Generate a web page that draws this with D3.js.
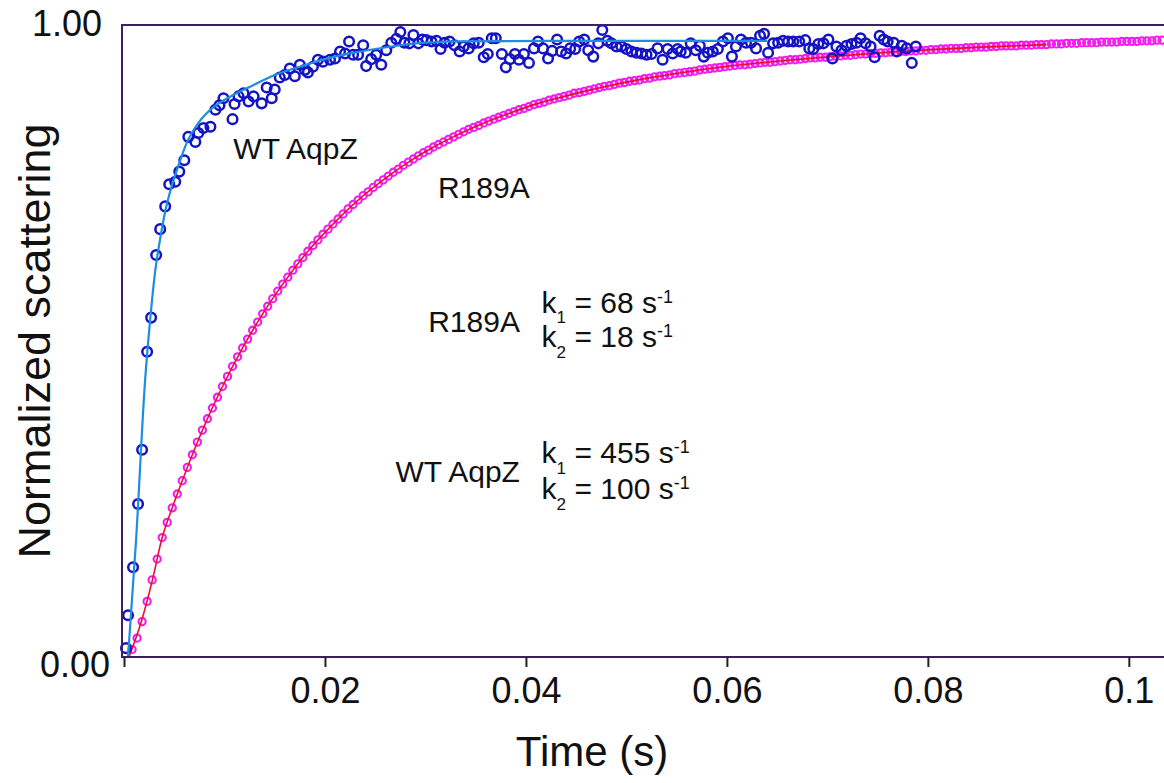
<!DOCTYPE html>
<meta charset="utf-8">
<script src="https://d3js.org/d3.v7.min.js"></script>
<style>
body { margin: 0; background: #fff; }
svg text { font-family: "Liberation Sans", Arial, Helvetica, sans-serif; fill: #111; }
.axis .domain { display: none; }
</style>
<body>
<div id="canvas"></div>
<script>

// stopped-flow traces, time in ms, scattering normalized 0..1
var wtTime = [
  0.2, 0.4, 0.9, 1.4, 1.8, 2.3, 2.7, 3.2, 3.6, 4.1,
  4.5, 5.1, 5.5, 6.0, 6.4, 7.1, 7.4, 7.9, 8.6, 9.1,
  9.5, 9.9, 10.8, 11.0, 11.4, 11.9, 12.4, 12.9, 13.7, 14.2,
  14.7, 15.0, 15.5, 16.0, 16.5, 17.0, 17.5, 18.0, 18.3, 18.8,
  19.3, 19.8, 20.5, 21.0, 21.5, 22.0, 22.4, 22.8, 23.3, 23.8,
  24.1, 24.6, 25.1, 25.6, 26.1, 26.6, 27.1, 27.5, 27.9, 28.4,
  28.8, 29.3, 29.7, 30.1, 30.6, 31.1, 31.5, 31.9, 32.4, 32.9,
  33.4, 33.8, 34.3, 34.8, 35.3, 35.8, 36.2, 36.6, 37.0, 37.6,
  38.0, 38.4, 38.9, 39.3, 39.8, 40.3, 40.8, 41.2, 41.7, 42.2,
  42.6, 43.1, 43.5, 44.0, 44.4, 44.9, 45.3, 45.8, 46.2, 46.7,
  47.2, 47.6, 48.1, 48.5, 49.0, 49.5, 50.0, 50.5, 51.0, 51.5,
  52.0, 52.5, 53.1, 53.6, 54.1, 54.6, 55.1, 55.4, 55.9, 56.4,
  56.9, 57.3, 57.7, 58.1, 58.6, 59.1, 59.6, 60.1, 60.5, 60.9,
  61.4, 61.9, 62.4, 62.9, 63.3, 63.7, 64.1, 64.6, 65.1, 65.6,
  66.1, 66.6, 67.2, 67.8, 68.2, 68.6, 69.1, 69.6, 70.1, 70.5,
  70.9, 71.4, 71.9, 72.4, 72.9, 73.3, 73.8, 74.3, 74.7, 75.2,
  75.6, 76.0, 76.6, 76.9, 77.4, 77.9, 78.4, 78.8
];
var wtValue = [
  0.014, 0.066, 0.142, 0.242, 0.328, 0.483, 0.537, 0.636, 0.677, 0.713,
  0.748, 0.752, 0.768, 0.786, 0.823, 0.815, 0.829, 0.837, 0.839, 0.866,
  0.873, 0.884, 0.851, 0.875, 0.887, 0.892, 0.879, 0.887, 0.876, 0.901,
  0.884, 0.898, 0.917, 0.921, 0.931, 0.919, 0.937, 0.929, 0.925, 0.934,
  0.945, 0.942, 0.945, 0.947, 0.958, 0.955, 0.974, 0.953, 0.953, 0.968,
  0.935, 0.946, 0.953, 0.937, 0.960, 0.972, 0.978, 0.989, 0.972, 0.971,
  0.984, 0.971, 0.977, 0.976, 0.974, 0.975, 0.962, 0.972, 0.974, 0.968,
  0.958, 0.966, 0.963, 0.971, 0.972, 0.949, 0.954, 0.979, 0.979, 0.954,
  0.933, 0.946, 0.954, 0.945, 0.954, 0.940, 0.963, 0.974, 0.963, 0.947,
  0.959, 0.977, 0.958, 0.955, 0.963, 0.962, 0.974, 0.977, 0.960, 0.950,
  0.971, 0.992, 0.975, 0.971, 0.966, 0.966, 0.962, 0.958, 0.956, 0.955,
  0.953, 0.954, 0.963, 0.945, 0.962, 0.955, 0.962, 0.958, 0.956, 0.971,
  0.960, 0.967, 0.950, 0.956, 0.958, 0.962, 0.974, 0.979, 0.950, 0.966,
  0.977, 0.972, 0.972, 0.963, 0.983, 0.986, 0.956, 0.971, 0.972, 0.975,
  0.974, 0.974, 0.974, 0.976, 0.963, 0.962, 0.970, 0.971, 0.977, 0.947,
  0.966, 0.960, 0.967, 0.970, 0.972, 0.979, 0.971, 0.966, 0.949, 0.983,
  0.977, 0.974, 0.972, 0.958, 0.967, 0.963, 0.940, 0.966
];
// fitted curve WT AqpZ
var wtFitTime = [0.4, 1.2, 2.1, 2.6, 3.1, 3.6, 4.1, 4.6, 5.4, 6.2, 7.4, 8.9, 10.5, 12.5, 15.0, 17.5, 20.0, 22.5, 25.0, 27.5, 30.0, 33.0, 45.0, 64.0];
var wtFitValue = [0.000, 0.185, 0.438, 0.533, 0.610, 0.662, 0.705, 0.737, 0.777, 0.812, 0.845, 0.870, 0.886, 0.902, 0.921, 0.934, 0.946, 0.955, 0.962, 0.968, 0.972, 0.974, 0.975, 0.975];

var rTime = [
  0.8, 1.3, 1.8, 2.3, 2.8, 3.3, 3.8, 4.3, 4.8, 5.3,
  5.8, 6.3, 6.8, 7.3, 7.8, 8.3, 8.8, 9.3, 9.8, 10.3,
  10.8, 11.3, 11.8, 12.3, 12.8, 13.3, 13.8, 14.3, 14.8, 15.3,
  15.8, 16.3, 16.8, 17.3, 17.8, 18.3, 18.8, 19.3, 19.8, 20.3,
  20.8, 21.3, 21.8, 22.3, 22.8, 23.3, 23.8, 24.3, 24.8, 25.3,
  25.8, 26.3, 26.8, 27.3, 27.8, 28.3, 28.8, 29.3, 29.8, 30.3,
  30.8, 31.3, 31.8, 32.3, 32.8, 33.3, 33.8, 34.3, 34.8, 35.3,
  35.8, 36.3, 36.8, 37.3, 37.8, 38.3, 38.8, 39.3, 39.8, 40.3,
  40.8, 41.3, 41.8, 42.3, 42.8, 43.3, 43.8, 44.3, 44.8, 45.3,
  45.8, 46.3, 46.8, 47.3, 47.8, 48.3, 48.8, 49.3, 49.8, 50.3,
  50.8, 51.3, 51.8, 52.3, 52.8, 53.3, 53.8, 54.3, 54.8, 55.3,
  55.8, 56.3, 56.8, 57.3, 57.8, 58.3, 58.8, 59.3, 59.8, 60.3,
  60.8, 61.3, 61.8, 62.3, 62.8, 63.3, 63.8, 64.3, 64.8, 65.3,
  65.8, 66.3, 66.8, 67.3, 67.8, 68.3, 68.8, 69.3, 69.8, 70.3,
  70.8, 71.3, 71.8, 72.3, 72.8, 73.3, 73.8, 74.3, 74.8, 75.3,
  75.8, 76.3, 76.8, 77.3, 77.8, 78.3, 78.8, 79.3, 79.8, 80.3,
  80.8, 81.3, 81.8, 82.3, 82.8, 83.3, 83.8, 84.3, 84.8, 85.3,
  85.8, 86.3, 86.8, 87.3, 87.8, 88.3, 88.8, 89.3, 89.8, 90.3,
  90.8, 91.3, 91.8, 92.3, 92.8, 93.3, 93.8, 94.3, 94.8, 95.3,
  95.8, 96.3, 96.8, 97.3, 97.8, 98.3, 98.8, 99.3, 99.8, 100.3,
  100.8, 101.3, 101.8, 102.3, 102.8, 103.3
];
var rValue = [
  0.012, 0.030, 0.056, 0.088, 0.122, 0.155, 0.189, 0.213, 0.236, 0.258,
  0.279, 0.300, 0.320, 0.340, 0.359, 0.377, 0.394, 0.411, 0.428, 0.444,
  0.460, 0.475, 0.489, 0.503, 0.517, 0.530, 0.543, 0.555, 0.567, 0.579,
  0.590, 0.601, 0.612, 0.622, 0.632, 0.642, 0.651, 0.660, 0.669, 0.677,
  0.685, 0.693, 0.701, 0.709, 0.716, 0.723, 0.730, 0.736, 0.743, 0.749,
  0.755, 0.761, 0.767, 0.772, 0.778, 0.783, 0.788, 0.793, 0.798, 0.802,
  0.807, 0.811, 0.815, 0.819, 0.823, 0.827, 0.831, 0.835, 0.838, 0.841,
  0.845, 0.848, 0.851, 0.854, 0.857, 0.860, 0.863, 0.866, 0.868, 0.871,
  0.874, 0.876, 0.878, 0.881, 0.883, 0.885, 0.887, 0.889, 0.892, 0.893,
  0.895, 0.897, 0.899, 0.901, 0.903, 0.904, 0.906, 0.908, 0.909, 0.911,
  0.912, 0.913, 0.915, 0.916, 0.918, 0.919, 0.920, 0.921, 0.923, 0.924,
  0.925, 0.926, 0.927, 0.929, 0.930, 0.931, 0.932, 0.933, 0.934, 0.935,
  0.936, 0.937, 0.937, 0.938, 0.939, 0.940, 0.941, 0.941, 0.942, 0.943,
  0.944, 0.945, 0.945, 0.946, 0.947, 0.948, 0.948, 0.949, 0.949, 0.950,
  0.951, 0.951, 0.952, 0.952, 0.953, 0.954, 0.954, 0.955, 0.955, 0.956,
  0.956, 0.957, 0.957, 0.958, 0.958, 0.959, 0.959, 0.960, 0.960, 0.961,
  0.961, 0.962, 0.962, 0.963, 0.963, 0.963, 0.964, 0.964, 0.965, 0.965,
  0.965, 0.966, 0.966, 0.967, 0.967, 0.967, 0.967, 0.968, 0.968, 0.968,
  0.969, 0.969, 0.969, 0.970, 0.970, 0.970, 0.971, 0.971, 0.971, 0.972,
  0.972, 0.972, 0.972, 0.973, 0.973, 0.973, 0.973, 0.974, 0.974, 0.974,
  0.974, 0.975, 0.975, 0.975, 0.976, 0.976
];
// fitted curve R189A
var rFitTime = [0.5, 1.8, 2.8, 3.8, 4.8, 5.8, 6.8, 8.3, 9.8, 11.8, 13.8, 15.8, 18.3, 20.8, 23.3, 25.8, 28.3, 30.8, 33.3, 35.8, 38.3, 40.8, 43.3, 45.8, 48.3, 50.8, 55.3, 60.3, 65.3, 70.3, 75.3, 80.3, 85.3, 91.8];
var rFitValue = [0.000, 0.060, 0.120, 0.189, 0.236, 0.279, 0.320, 0.377, 0.428, 0.489, 0.543, 0.590, 0.642, 0.685, 0.723, 0.755, 0.783, 0.807, 0.827, 0.845, 0.860, 0.874, 0.885, 0.895, 0.904, 0.912, 0.924, 0.935, 0.943, 0.950, 0.956, 0.961, 0.965, 0.969];

var xTickValues = [0, 0.02, 0.04, 0.06, 0.08, 0.1];
var xTickLabels = ["", "0.02", "0.04", "0.06", "0.08", "0.1"];
var yTickValues = [0, 1];
var yTickLabels = ["0.00", "1.00"];

var width = 1164;
var height = 783;

var svg = d3.select("#canvas")
    .append("svg")
    .attr("width", width)
    .attr("height", height)
    .style("display", "block");

var plot = {left: 122, top: 25, bottom: 657};

// time scale in seconds, 0 sits just right of the frame
var x = d3.scaleLinear().domain([-0.0002, 0.1035]).range([plot.left, width]);
var y = d3.scaleLinear().domain([0, 1]).range([plot.bottom, plot.top]);

function pts(t, v) {
    return d3.zip(t, v).map(function(d) { return {t: d[0] / 1000, v: d[1]}; });
}
var wtData = pts(wtTime, wtValue);
var wtFit = pts(wtFitTime, wtFitValue);
var rData = pts(rTime, rValue);
var rFit = pts(rFitTime, rFitValue);

var line = d3.line()
    .x(function(d) { return x(d.t); })
    .y(function(d) { return y(d.v); })
    .curve(d3.curveMonotoneX);

// R189A points + fit
svg.append("g").selectAll("circle")
    .data(rData).enter().append("circle")
    .attr("cx", function(d) { return x(d.t); })
    .attr("cy", function(d) { return y(d.v); })
    .attr("r", 3.6)
    .attr("fill", "none")
    .attr("stroke", "#f21cf0")
    .attr("stroke-width", 2.1);

svg.append("path")
    .datum(rFit)
    .attr("d", line)
    .attr("fill", "none")
    .attr("stroke", "#e8102e")
    .attr("stroke-width", 1.6);

// WT points + fit
svg.append("g").selectAll("circle")
    .data(wtData).enter().append("circle")
    .attr("cx", function(d) { return x(d.t); })
    .attr("cy", function(d) { return y(d.v); })
    .attr("r", 4.8)
    .attr("fill", "none")
    .attr("stroke", "#1414c4")
    .attr("stroke-width", 2.5);

svg.append("path")
    .datum(wtFit)
    .attr("d", line)
    .attr("fill", "none")
    .attr("stroke", "#1f8ce0")
    .attr("stroke-width", 2.2);

// frame (right side runs off the picture)
svg.append("rect")
    .attr("x", plot.left)
    .attr("y", plot.top)
    .attr("width", width + 10 - plot.left)
    .attr("height", plot.bottom - plot.top)
    .attr("fill", "none")
    .attr("stroke", "#3b2160")
    .attr("stroke-width", 2);

// x axis
var xAxis = d3.axisBottom(x)
    .tickValues(xTickValues)
    .tickSize(10)
    .tickPadding(10)
    .tickFormat(function(d, i) { return xTickLabels[i]; });
var gx = svg.append("g")
    .attr("class", "axis")
    .attr("transform", "translate(0," + plot.bottom + ")")
    .call(xAxis);
gx.selectAll("line").attr("stroke", "#222").attr("stroke-width", 2);
gx.selectAll("text").style("font-size", "36px");

// y axis, labels only
var yAxis = d3.axisLeft(y)
    .tickValues(yTickValues)
    .tickSize(0)
    .tickPadding(12)
    .tickFormat(function(d, i) { return yTickLabels[i]; });
var gy = svg.append("g")
    .attr("class", "axis")
    .attr("transform", "translate(" + plot.left + ",0)")
    .call(yAxis);
gy.selectAll("text")
    .style("font-size", "36px")
    .attr("dx", function(d) { return d === 1 ? -8 : 0; })
    .attr("dy", function(d) { return d === 1 ? "0.28em" : "0.55em"; });

// axis titles
svg.append("text")
    .attr("transform", "translate(50," + y(0.5) + ") rotate(-90)")
    .attr("text-anchor", "middle")
    .style("font-size", "45px")
    .text("Normalized scattering");

svg.append("text")
    .attr("x", 592)
    .attr("y", 766)
    .attr("text-anchor", "middle")
    .style("font-size", "42px")
    .text("Time (s)");

// curve labels
svg.append("text")
    .attr("x", x(0.01088)).attr("y", y(0.7875))
    .style("font-size", "30px")
    .text("WT AqpZ");
svg.append("text")
    .attr("x", x(0.03124)).attr("y", y(0.7263))
    .style("font-size", "30px")
    .text("R189A");

// rate constants
var rates = [
    {name: "R189A", k1: "68", k2: "18", v1: 0.5448, v2: 0.4900, vn: 0.5147},
    {name: "WT AqpZ", k1: "455", k2: "100", v1: 0.3065, v2: 0.2495, vn: 0.2774}
];
rates.forEach(function(r) {
    svg.append("text")
        .attr("x", x(0.0394)).attr("y", y(r.vn))
        .attr("text-anchor", "end")
        .style("font-size", "30px")
        .text(r.name);
    [[r.v1, "1", r.k1], [r.v2, "2", r.k2]].forEach(function(row) {
        var t = svg.append("text")
            .attr("x", x(0.04156)).attr("y", y(row[0]))
            .style("font-size", "30px");
        t.append("tspan").text("k");
        t.append("tspan").attr("dy", 10.6).style("font-size", "17px").text(row[1]);
        t.append("tspan").attr("dy", -10.6).text(" = " + row[2] + " s");
        t.append("tspan").attr("dy", -10).style("font-size", "18px").text("-1");
    });
});

</script>
</body>
